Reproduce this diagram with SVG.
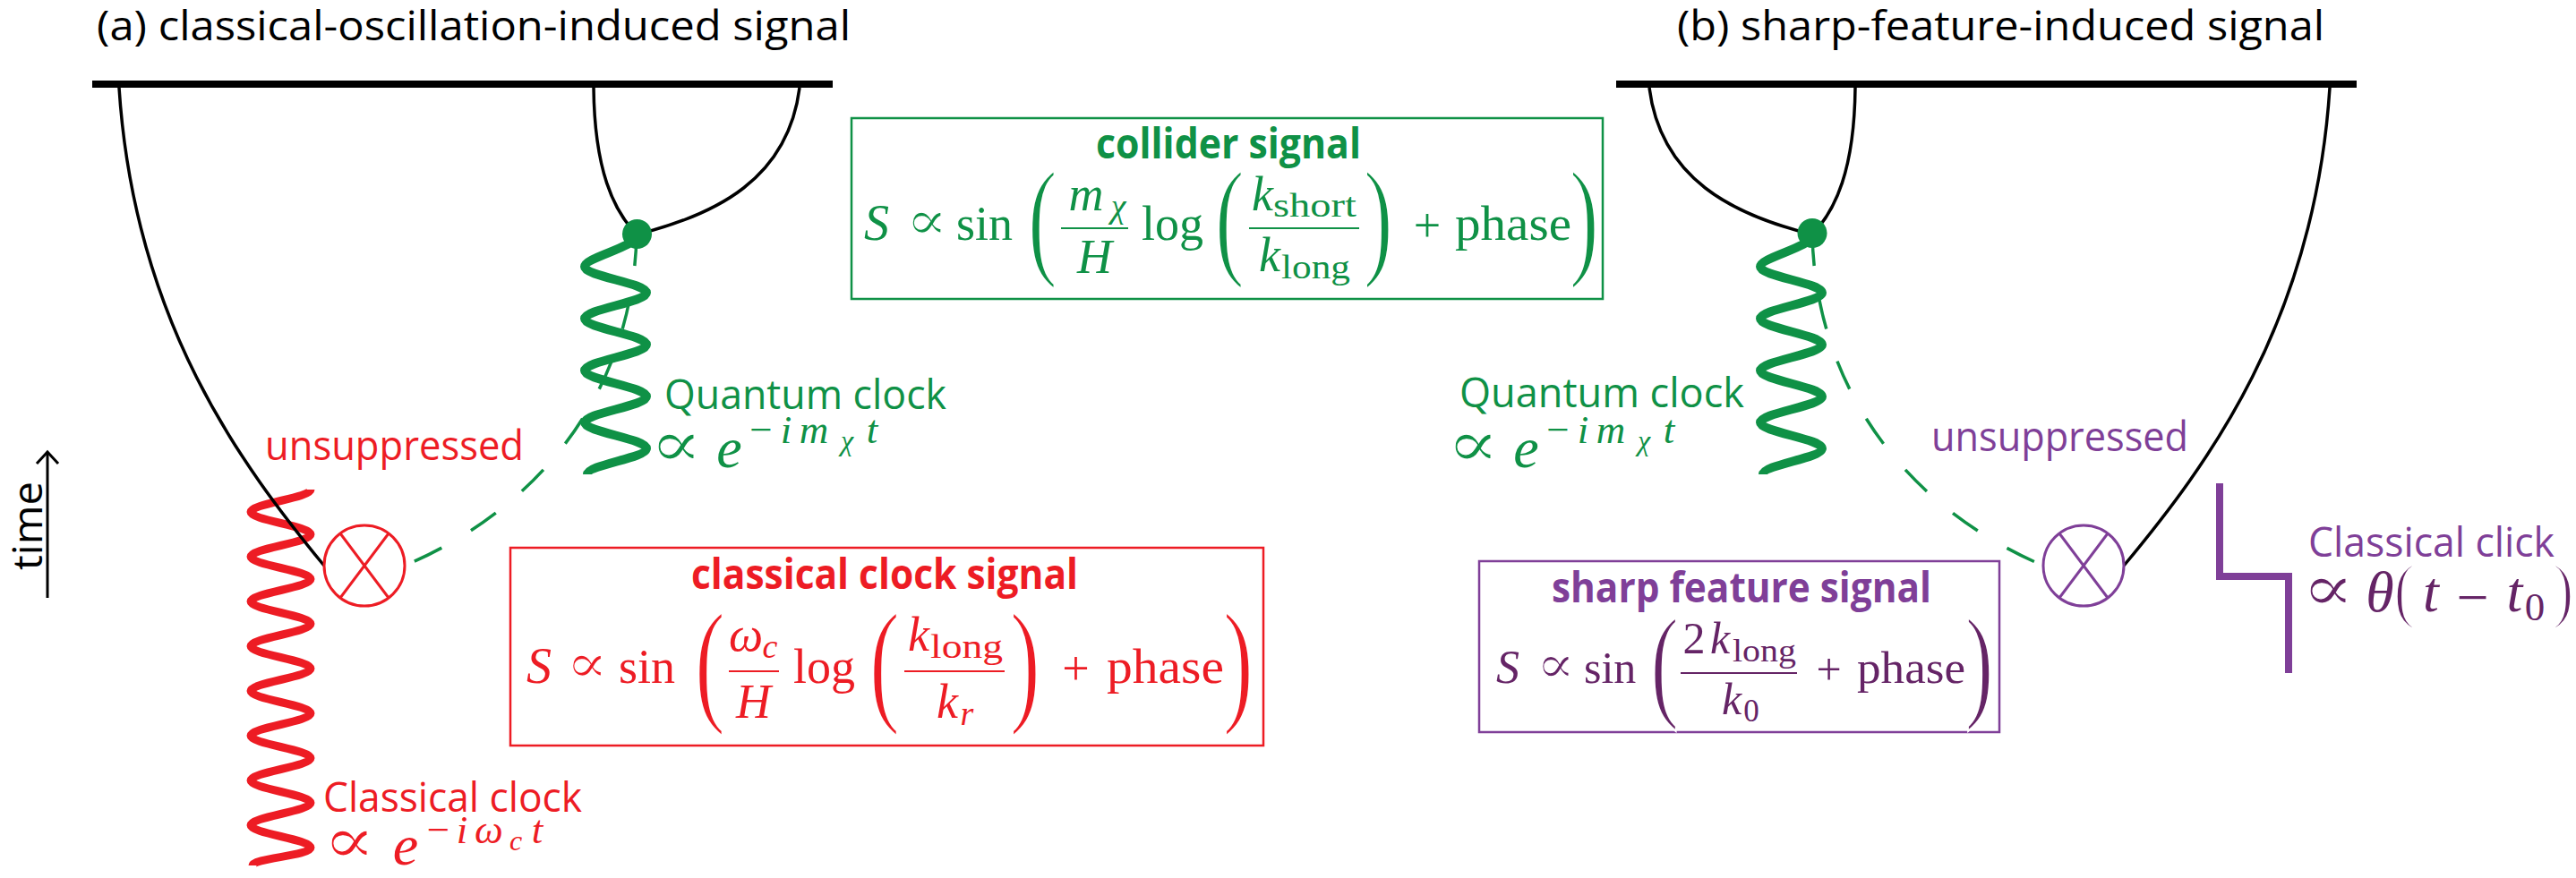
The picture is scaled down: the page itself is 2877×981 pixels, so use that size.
<svg xmlns="http://www.w3.org/2000/svg" width="2877" height="981" viewBox="0 0 2877 981">
<style>
.lbl{font-family:"Open Sans","Noto Sans","Liberation Sans",sans-serif;font-size:46px}
.b{font-weight:700}
.m{font-family:"Liberation Serif","DejaVu Serif",serif}
.it{font-style:italic}
.prop{font-family:"DejaVu Serif","Liberation Serif",serif;stroke:#fff;stroke-width:1.2}
.par{stroke:#fff;stroke-width:2.5}
.k{fill:#000}
.g{fill:#0F9146}.r{fill:#ED1C24}.p{fill:#7F3F98}.pd{fill:#652466}
.line{fill:none;stroke:#000;stroke-width:3.5}
.dash{fill:none;stroke:#0F9146;stroke-width:3.5;stroke-dasharray:34 38}
.box{fill:none;stroke-width:2.5}
.frac{stroke-width:2.2}
.spg{fill:none;stroke:#0F9146;stroke-width:10}
.spr{fill:none;stroke:#ED1C24;stroke-width:9}
</style>
<defs>
<path id="qspring" d="M711,263 C711,276 653,287.5 653,298 C653,308.5 722,316.5 722,327 C722,337.5 653,345.5 653,356 C653,366.5 722,374.5 722,385 C722,395.5 653,403.5 653,414 C653,424.5 722,432.5 722,443 C722,453.5 653,461.5 653,472 C653,482.5 722,490.5 722,501 C722,511.5 656,519.5 656,530"/>
</defs>

<!-- titles -->
<g id="title-a"><text class="lbl k" x="108" y="45" textLength="842" lengthAdjust="spacingAndGlyphs">(a) classical-oscillation-induced signal</text></g>
<g id="title-b"><text class="lbl k" x="1873" y="45" textLength="723" lengthAdjust="spacingAndGlyphs">(b) sharp-feature-induced signal</text></g>

<!-- time axis -->
<g id="time-axis">
<text class="lbl k" transform="translate(47,587.5) rotate(-90)" text-anchor="middle" textLength="99" lengthAdjust="spacingAndGlyphs">time</text>
<line x1="53" y1="668" x2="53" y2="506" stroke="#000" stroke-width="3"/>
<polyline points="41,518 53,505 65,518" fill="none" stroke="#000" stroke-width="3"/>
</g>

<!-- boundaries -->
<g id="boundary-a"><rect x="103" y="90" width="827" height="8" fill="#000"/></g>
<g id="boundary-b"><rect x="1805" y="90" width="827" height="8" fill="#000"/></g>

<!-- springs (drawn beneath connectors) -->
<g id="classical-clock-a">
<path class="spr" d="M347,547 C347,556 280,563 280,572 C280,581 347,588 347,597 C347,606 280,613 280,622 C280,631 347,638 347,647 C347,656 280,663 280,672 C280,681 347,688 347,697 C347,706 280,713 280,722 C280,731 347,738 347,747 C347,756 280,763 280,772 C280,781 347,788 347,797 C347,806 280,813 280,822 C280,831 347,838 347,847 C347,856 280,863 280,872 C280,881 347,888 347,897 C347,906 280,913 280,922 C280,931 347,938 347,947 C347,956 282,959 282,967"/>
<text class="lbl r" x="361" y="907" textLength="289" lengthAdjust="spacingAndGlyphs">Classical clock</text>
<text class="prop r" font-size="70" text-anchor="middle" transform="translate(390,964) scale(1.25,1.05)">∝</text>
<text class="m r"><tspan class="it" x="453" y="966" font-size="64" text-anchor="middle">e</tspan><tspan x="489.5" y="942" font-size="45" text-anchor="middle">−</tspan><tspan class="it" x="516" y="942" font-size="45" text-anchor="middle">i</tspan><tspan class="it" x="546" y="942" font-size="45" text-anchor="middle">ω</tspan><tspan class="it" x="576" y="950" font-size="32" text-anchor="middle">c</tspan><tspan class="it" x="600" y="942" font-size="45" text-anchor="middle">t</tspan></text>
</g>

<g id="quantum-clock-a">
<use href="#qspring" class="spg"/>
<text class="lbl g" x="742" y="457" textLength="315" lengthAdjust="spacingAndGlyphs">Quantum clock</text>
<text class="prop g" font-size="70" text-anchor="middle" transform="translate(755,521) scale(1.25,1.05)">∝</text>
<text class="m g"><tspan class="it" x="814.5" y="522" font-size="64" text-anchor="middle">e</tspan><tspan x="850" y="495" font-size="45" text-anchor="middle">−</tspan><tspan class="it" x="878" y="495" font-size="45" text-anchor="middle">i</tspan><tspan class="it" x="909" y="495" font-size="45" text-anchor="middle">m</tspan><tspan class="it" x="946" y="503" font-size="32" text-anchor="middle">χ</tspan><tspan class="it" x="974" y="495" font-size="45" text-anchor="middle">t</tspan></text>
</g>

<g id="quantum-clock-b">
<use href="#qspring" class="spg" transform="translate(1313,0)"/>
<text class="lbl g" x="1630" y="455" textLength="318" lengthAdjust="spacingAndGlyphs">Quantum clock</text>
<text class="prop g" font-size="70" text-anchor="middle" transform="translate(1645,521) scale(1.25,1.05)">∝</text>
<text class="m g"><tspan class="it" x="1704.5" y="522" font-size="64" text-anchor="middle">e</tspan><tspan x="1740" y="495" font-size="45" text-anchor="middle">−</tspan><tspan class="it" x="1768" y="495" font-size="45" text-anchor="middle">i</tspan><tspan class="it" x="1799" y="495" font-size="45" text-anchor="middle">m</tspan><tspan class="it" x="1836" y="503" font-size="32" text-anchor="middle">χ</tspan><tspan class="it" x="1864" y="495" font-size="45" text-anchor="middle">t</tspan></text>
</g>

<!-- connectors -->
<g id="connectors">
<path class="line" d="M133,98 C150,360 270,520 362,632"/>
<path class="line" d="M663,98 C664,190 685,235 711,262"/>
<path class="line" d="M893,98 C880,200 800,240 711,262"/>
<path class="line" d="M2602,98 C2585,360 2465,520 2372,632"/>
<path class="line" d="M2072,98 C2071,190 2050,235 2024,262"/>
<path class="line" d="M1842,98 C1855,200 1935,240 2024,262"/>
<path class="dash" d="M711,263 C707,420 620,560 452,632"/>
<path class="dash" d="M2024,263 C2028,420 2115,560 2282,632"/>
</g>

<!-- vertices -->
<g id="vertex-a"><circle cx="711.5" cy="261.5" r="16.5" fill="#0F9146"/></g>
<g id="vertex-b"><circle cx="2024" cy="260.5" r="16.5" fill="#0F9146"/></g>

<g id="insertion-a">
<circle cx="407" cy="632" r="45" fill="#fff" stroke="#ED1C24" stroke-width="3"/>
<line x1="380" y1="596" x2="434" y2="668" stroke="#ED1C24" stroke-width="3"/>
<line x1="434" y1="596" x2="380" y2="668" stroke="#ED1C24" stroke-width="3"/>
<text class="lbl r" x="296" y="514" textLength="289" lengthAdjust="spacingAndGlyphs">unsuppressed</text>
</g>

<g id="insertion-b">
<circle cx="2327" cy="632" r="45" fill="#fff" stroke="#7F3F98" stroke-width="3"/>
<line x1="2300" y1="596" x2="2354" y2="668" stroke="#7F3F98" stroke-width="3"/>
<line x1="2354" y1="596" x2="2300" y2="668" stroke="#7F3F98" stroke-width="3"/>
<text class="lbl p" x="2157" y="504" textLength="287" lengthAdjust="spacingAndGlyphs">unsuppressed</text>
</g>

<g id="classical-click-b">
<path d="M2479,540 V644 H2556 V752" fill="none" stroke="#7F3F98" stroke-width="8"/>
<text class="lbl p" x="2578" y="622" textLength="275" lengthAdjust="spacingAndGlyphs">Classical click</text>
<text class="prop pd" font-size="70" text-anchor="middle" transform="translate(2600,682) scale(1.25,1.05)">∝</text>
<text class="m par pd" font-size="80" transform="translate(2673.6,686) scale(0.88,1)">(</text>
<text class="m pd" font-size="64"><tspan class="it" x="2658" y="683" text-anchor="middle">θ</tspan><tspan class="it" x="2715" y="683" text-anchor="middle">t</tspan><tspan x="2761.5" y="689" text-anchor="middle">−</tspan><tspan class="it" x="2808.5" y="683" text-anchor="middle">t</tspan><tspan x="2831" y="693" font-size="45" text-anchor="middle">0</tspan></text>
<text class="m par pd" font-size="80" transform="translate(2851,686) scale(0.88,1)">)</text>
</g>

<!-- signal boxes -->
<g id="collider-signal-box">
<rect class="box" x="951" y="132" width="839" height="202" stroke="#0F9146"/>
<text class="lbl b g" x="1224" y="177" textLength="296" lengthAdjust="spacingAndGlyphs">collider signal</text>
<text class="prop g" font-size="58" text-anchor="middle" transform="translate(1035,267) scale(1.2,1.05)">∝</text>
<text class="m g" font-size="54"><tspan class="it" x="979" y="268" font-size="56" text-anchor="middle">S</tspan><tspan x="1068" y="268">sin</tspan><tspan class="it" x="1213" y="235" text-anchor="middle">m</tspan><tspan class="it" x="1249" y="243" font-size="38" text-anchor="middle">χ</tspan><tspan class="it" x="1222.5" y="305" text-anchor="middle">H</tspan><tspan x="1275" y="268">log</tspan><tspan class="it" x="1410" y="235" text-anchor="middle">k</tspan><tspan class="it" x="1418" y="303" text-anchor="middle">k</tspan><tspan x="1594" y="270" text-anchor="middle">+</tspan></text>
<text class="m g" x="1422" y="242" font-size="38" textLength="93" lengthAdjust="spacingAndGlyphs">short</text>
<text class="m g" x="1431" y="311" font-size="38" textLength="77" lengthAdjust="spacingAndGlyphs">long</text>
<text class="m g" x="1625" y="268" font-size="54" textLength="130" lengthAdjust="spacingAndGlyphs">phase</text>
<line class="frac" x1="1185" y1="255" x2="1260" y2="255" stroke="#0F9146"/>
<line class="frac" x1="1395" y1="255" x2="1518" y2="255" stroke="#0F9146"/>
<text class="m par g" font-size="146" transform="translate(1148,292) scale(0.67,1)">(</text>
<text class="m par g" font-size="146" transform="translate(1357,292) scale(0.67,1)">(</text>
<text class="m par g" font-size="146" transform="translate(1523,292) scale(0.67,1)">)</text>
<text class="m par g" font-size="146" transform="translate(1753,292) scale(0.67,1)">)</text>
</g>

<g id="classical-clock-signal-box">
<rect class="box" x="570" y="612" width="841" height="221" stroke="#ED1C24"/>
<text class="lbl b r" x="772" y="658" textLength="432" lengthAdjust="spacingAndGlyphs">classical clock signal</text>
<text class="prop r" font-size="58" text-anchor="middle" transform="translate(655.5,762) scale(1.2,1.05)">∝</text>
<text class="m r" font-size="54"><tspan class="it" x="602" y="763" font-size="56" text-anchor="middle">S</tspan><tspan x="691" y="763">sin</tspan><tspan class="it" x="833" y="727" text-anchor="middle">ω</tspan><tspan class="it" x="860" y="735" font-size="38" text-anchor="middle">c</tspan><tspan class="it" x="841.5" y="802" text-anchor="middle">H</tspan><tspan x="886" y="763">log</tspan><tspan class="it" x="1026" y="727" text-anchor="middle">k</tspan><tspan class="it" x="1058" y="802" text-anchor="middle">k</tspan><tspan class="it" x="1080" y="810" font-size="38" text-anchor="middle">r</tspan><tspan x="1201.5" y="765" text-anchor="middle">+</tspan></text>
<text class="m r" x="1039" y="735" font-size="38" textLength="81" lengthAdjust="spacingAndGlyphs">long</text>
<text class="m r" x="1236" y="763" font-size="54" textLength="131" lengthAdjust="spacingAndGlyphs">phase</text>
<line class="frac" x1="814" y1="750" x2="870" y2="750" stroke="#ED1C24"/>
<line class="frac" x1="1010" y1="750" x2="1122" y2="750" stroke="#ED1C24"/>
<text class="m par r" font-size="152" transform="translate(776,790) scale(0.668,1)">(</text>
<text class="m par r" font-size="152" transform="translate(971,790) scale(0.668,1)">(</text>
<text class="m par r" font-size="152" transform="translate(1128,790) scale(0.668,1)">)</text>
<text class="m par r" font-size="152" transform="translate(1366,790) scale(0.668,1)">)</text>
</g>

<g id="sharp-feature-signal-box">
<rect class="box" x="1652" y="627" width="581" height="191" stroke="#7F3F98"/>
<text class="lbl b p" x="1733" y="673" textLength="424" lengthAdjust="spacingAndGlyphs">sharp feature signal</text>
<text class="prop pd" font-size="56" text-anchor="middle" transform="translate(1737.5,762) scale(1.15,1.05)">∝</text>
<text class="m pd" font-size="50"><tspan class="it" x="1684" y="763" font-size="52" text-anchor="middle">S</tspan><tspan x="1769" y="763">sin</tspan><tspan x="1892" y="730" text-anchor="middle">2</tspan><tspan class="it" x="1921" y="730" text-anchor="middle">k</tspan><tspan class="it" x="1934" y="798" text-anchor="middle">k</tspan><tspan x="1956" y="806" font-size="35" text-anchor="middle">0</tspan><tspan x="2042.5" y="765" text-anchor="middle">+</tspan></text>
<text class="m pd" x="1935" y="739" font-size="35" textLength="71" lengthAdjust="spacingAndGlyphs">long</text>
<text class="m pd" x="2074" y="763" font-size="50" textLength="121" lengthAdjust="spacingAndGlyphs">phase</text>
<line class="frac" x1="1877" y1="752" x2="2007" y2="752" stroke="#652466"/>
<text class="m par pd" font-size="139.5" transform="translate(1843.5,787) scale(0.672,1)">(</text>
<text class="m par pd" font-size="139.5" transform="translate(2195,787) scale(0.672,1)">)</text>
</g>
</svg>
